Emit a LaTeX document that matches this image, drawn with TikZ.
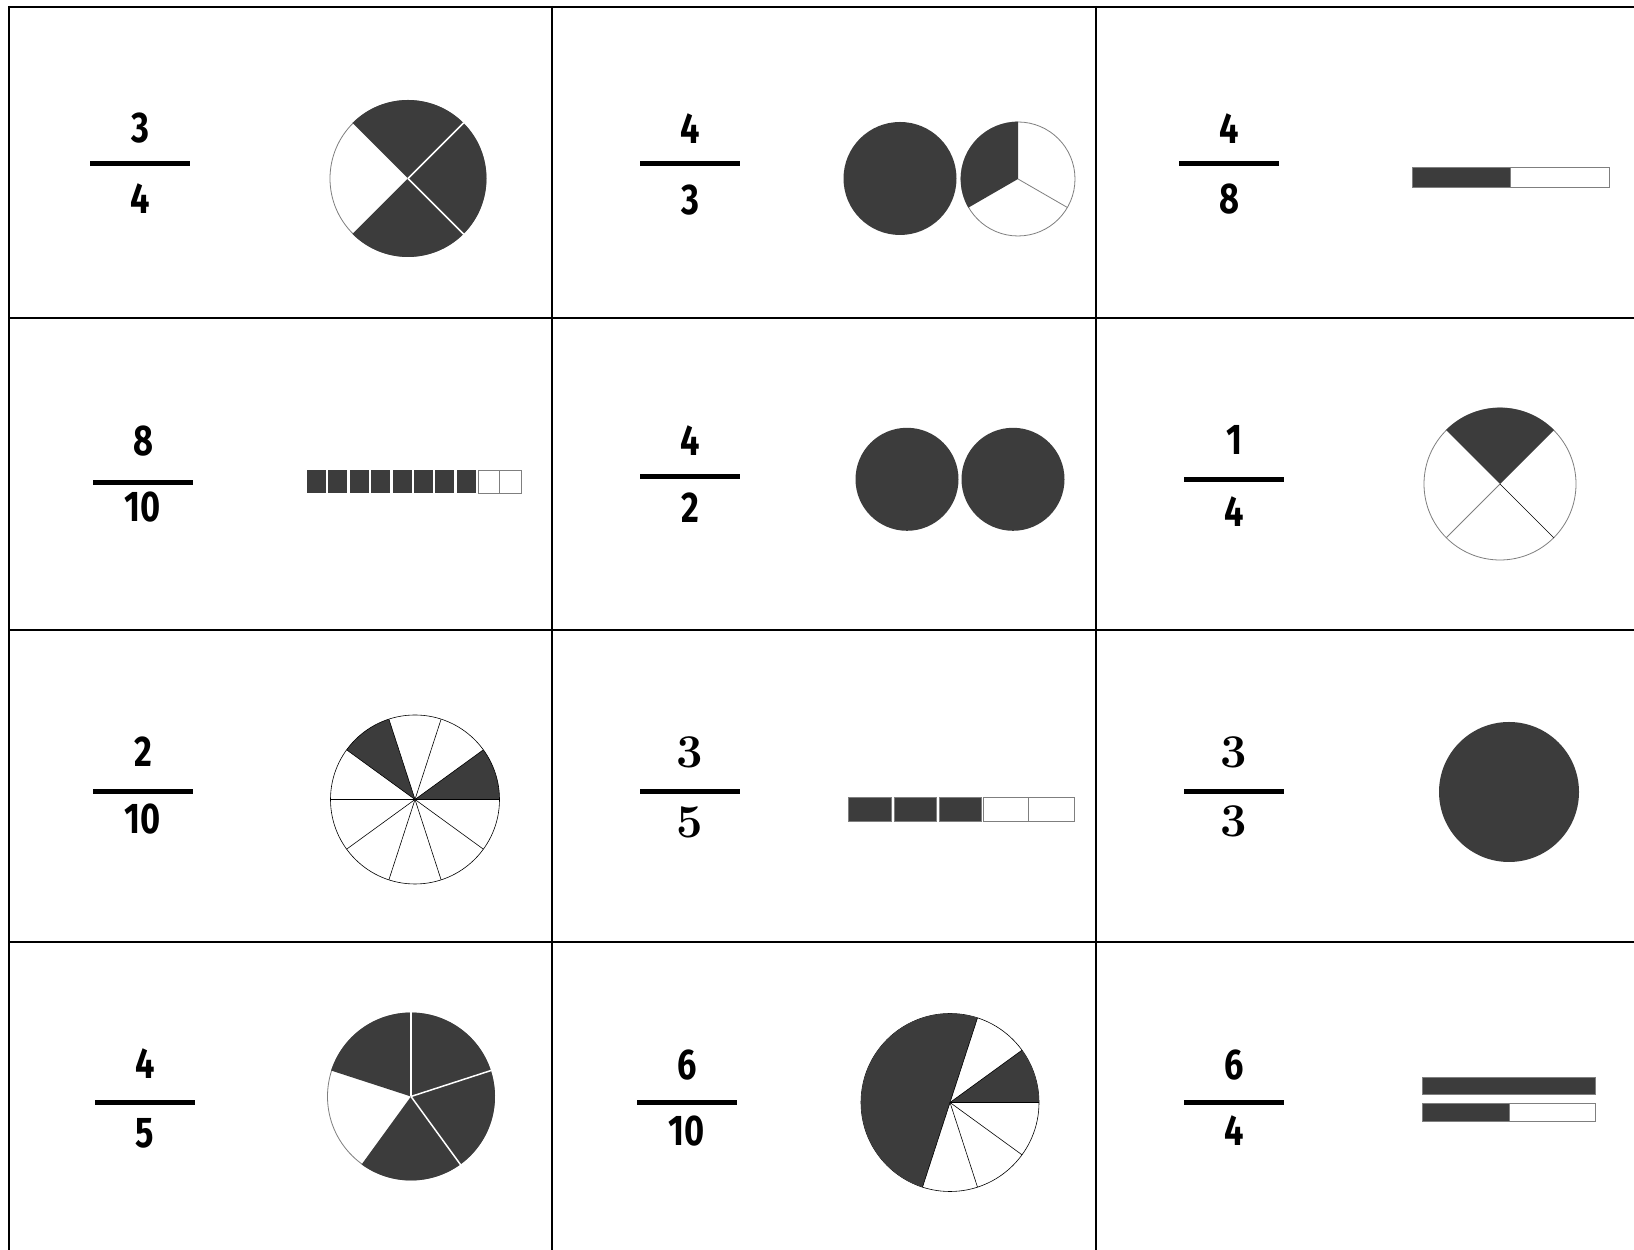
\documentclass[tikz,border=0pt]{standalone}
\usepackage{fontspec}
\usepackage{xcolor}
\usetikzlibrary{positioning}
\newfontfamily\handfont{Fira Sans}[FakeStretch=0.8]
\definecolor{piegray}{HTML}{3C3C3C}
\definecolor{rimgray}{HTML}{7F7F7F}

\begin{document}
\begin{tikzpicture}[x=1pt, y=1pt,
    gridline/.style={line width=2pt, black},
    fracbar/.style={line width=5pt, black},
    digit/.style={inner sep=0pt, font=\handfont\bfseries\fontsize{43}{50}\selectfont},
    serifdigit/.style={inner sep=0pt, font=\rmfamily\bfseries\fontsize{47}{56}\selectfont},
    darkpart/.style={fill=piegray},
    rimline/.style={draw=rimgray, line width=0.8pt},
    spoke/.style={draw=black, line width=0.6pt},
    cutline/.style={draw=white, line width=1.5pt}]

        \clip (0,0) rectangle (1634,1250);
        \fill[white] (0,0) rectangle (1634,1250);

        % Table lines
        \foreach \y in {1243,932,620,308}
            \draw[gridline] (8,\y) -- (1640,\y);
        \foreach \x in {9,552,1096}
            \draw[gridline] (\x,1244) -- (\x,-10);

        % Define centers of the fraction bars
        \coordinate (b11) at (140,1086.5);    % 3/4
        \coordinate (b12) at (690,1086.5);    % 4/3
        \coordinate (b13) at (1229,1086.5);   % 4/8
        \coordinate (b21) at (143,767);       % 8/10
        \coordinate (b22) at (690,773.5);     % 4/2
        \coordinate (b23) at (1234,770);      % 1/4
        \coordinate (b31) at (143,458);       % 2/10
        \coordinate (b32) at (690,458);       % 3/5
        \coordinate (b33) at (1234,458);      % 3/3
        \coordinate (b41) at (145,147);       % 4/5
        \coordinate (b42) at (687,147);       % 6/10
        \coordinate (b43) at (1234,147);      % 6/4

        % Fraction bars
        \foreach \b in {b11,b12,b13,b21,b22,b23,b31,b32,b33,b41,b42,b43}
            \draw[fracbar] ([xshift=-50pt]\b) -- ([xshift=50pt]\b);

        % Numerators and denominators
        \node[digit, above=20pt of b11] (n11) {3};
        \node[digit, below=20pt of b11] (d11) {4};
        \node[digit, above=20pt of b12] (n12) {4};
        \node[digit, below=21pt of b12] (d12) {3};
        \node[digit, above=20pt of b13] (n13) {4};
        \node[digit, below=20pt of b13] (d13) {8};

        \node[digit, above=27pt of b21] (n21) {8};
        \node[digit, below=9pt of b21] (d21) {10};
        \node[digit, above=21pt of b22] (n22) {4};
        \node[digit, below=16pt of b22] (d22) {2};
        \node[digit, above=25pt of b23] (n23) {1};
        \node[digit, below=17pt of b23] (d23) {4};

        \node[digit, above=25pt of b31] (n31) {2};
        \node[digit, below=12pt of b31] (d31) {10};
        \node[serifdigit, above=24pt of b32] (n32) {3};
        \node[serifdigit, below=14pt of b32] (d32) {5};
        \node[serifdigit, above=24pt of b33] (n33) {3};
        \node[serifdigit, below=13pt of b33] (d33) {3};

        \node[digit, above=24pt of b41] (n41) {4};
        \node[digit, below=15pt of b41] (d41) {5};
        \node[digit, above=23pt of b42] (n42) {6};
        \node[digit, below=13pt of b42] (d42) {10};
        \node[digit, above=23pt of b43] (n43) {6};
        \node[digit, below=13pt of b43] (d43) {4};

        % Define centers of the pictures
        \coordinate (p11) at (408,1071.5);    % 3/4 pie
        \coordinate (p12a) at (900,1071.5);   % 4/3 whole
        \coordinate (p12b) at (1018,1071);    % 4/3 thirds
        \coordinate (p22a) at (907,770.7);    % 4/2 left
        \coordinate (p22b) at (1013,770.7);   % 4/2 right
        \coordinate (p23) at (1500,766);      % 1/4 pie
        \coordinate (p31) at (415,450.5);     % 2/10 pie
        \coordinate (p33) at (1509,458);      % 3/3 whole
        \coordinate (p41) at (411,153.5);     % 4/5 pie
        \coordinate (p42) at (950,147.5);     % 6/10 pie

        % 3/4
        \draw[rimline] (p11) circle (78);
        \fill[darkpart] (p11) -- ++(-45:78.5) arc[start angle=-45, end angle=135, radius=78.5] -- cycle;
        \fill[darkpart] (p11) -- ++(225:78.5) arc[start angle=225, end angle=315, radius=78.5] -- cycle;
        \draw[cutline] (p11) -- ++(45:79);
        \draw[cutline] (p11) -- ++(-45:79);

        % 4/3
        \fill[darkpart] (p12a) circle (56.5);
        \draw[rimline] (p12b) circle (57);
        \fill[darkpart] (p12b) -- ++(90:57.3) arc[start angle=90, end angle=210, radius=57.3] -- cycle;
        \draw[rimline] (p12b) -- ++(330:57);

        % 4/8
        \draw[rimline] (1412,1062.5) rectangle (1609,1083);
        \filldraw[darkpart, draw=rimgray, line width=0.8pt] (1412,1062.5) rectangle (1510,1083);

        % 8/10
        \foreach \i in {0,...,7}
            \fill[darkpart] ({307+21.4*\i},757) rectangle ++(19,23);
        \foreach \i in {8,9}
            \draw[rimline] ({307+21.4*\i},757) rectangle ++(21.4,23);

        % 4/2
        \fill[darkpart] (p22a) circle (51.5);
        \fill[darkpart] (p22b) circle (51.5);

        % 1/4
        \draw[rimline] (p23) circle (76);
        \fill[darkpart] (p23) -- ++(45:76.3) arc[start angle=45, end angle=135, radius=76.3] -- cycle;
        \draw[rimline] (p23) -- ++(225:76);
        \draw[spoke] (p23) -- ++(315:76);

        % 2/10
        \fill[darkpart] (p31) -- ++(0:84.5) arc[start angle=0, end angle=36, radius=84.5] -- cycle;
        \fill[darkpart] (p31) -- ++(108:84.5) arc[start angle=108, end angle=144, radius=84.5] -- cycle;
        \draw[spoke] (p31) circle (84.5);
        \foreach \a in {0,36,...,324}
            \draw[spoke] (p31) -- ++(\a:84.5);

        % 3/5
        \foreach \i in {0,1,2}
            \filldraw[darkpart, draw=rimgray, line width=0.8pt] ({848.5+45.4*\i},429) rectangle ++(42.4,24);
        \foreach \i in {3,4}
            \draw[rimline] ({847+45.4*\i},429) rectangle ++(45.4,24);

        % 3/3
        \fill[darkpart] (p33) circle (70);

        % 4/5
        \draw[rimline] (p41) circle (83.5);
        \fill[darkpart] (p41) -- ++(-126:84) arc[start angle=-126, end angle=162, radius=84] -- cycle;
        \foreach \a in {90,18,-54}
            \draw[cutline] (p41) -- ++(\a:84.5);

        % 6/10
        \draw[spoke] (p42) circle (89);
        \fill[darkpart] (p42) -- ++(0:89) arc[start angle=0, end angle=36, radius=89] -- cycle;
        \fill[darkpart] (p42) -- ++(72:89) arc[start angle=72, end angle=252, radius=89] -- cycle;
        \foreach \a in {0,36,72,252,288,324}
            \draw[spoke] (p42) -- ++(\a:89);

        % 6/4
        \filldraw[darkpart, draw=rimgray, line width=0.8pt] (1422,156) rectangle (1595,173);
        \draw[rimline] (1422,129) rectangle (1595,147);
        \filldraw[darkpart, draw=rimgray, line width=0.8pt] (1422,129) rectangle (1509,147);
    \end{tikzpicture}
\end{document}
